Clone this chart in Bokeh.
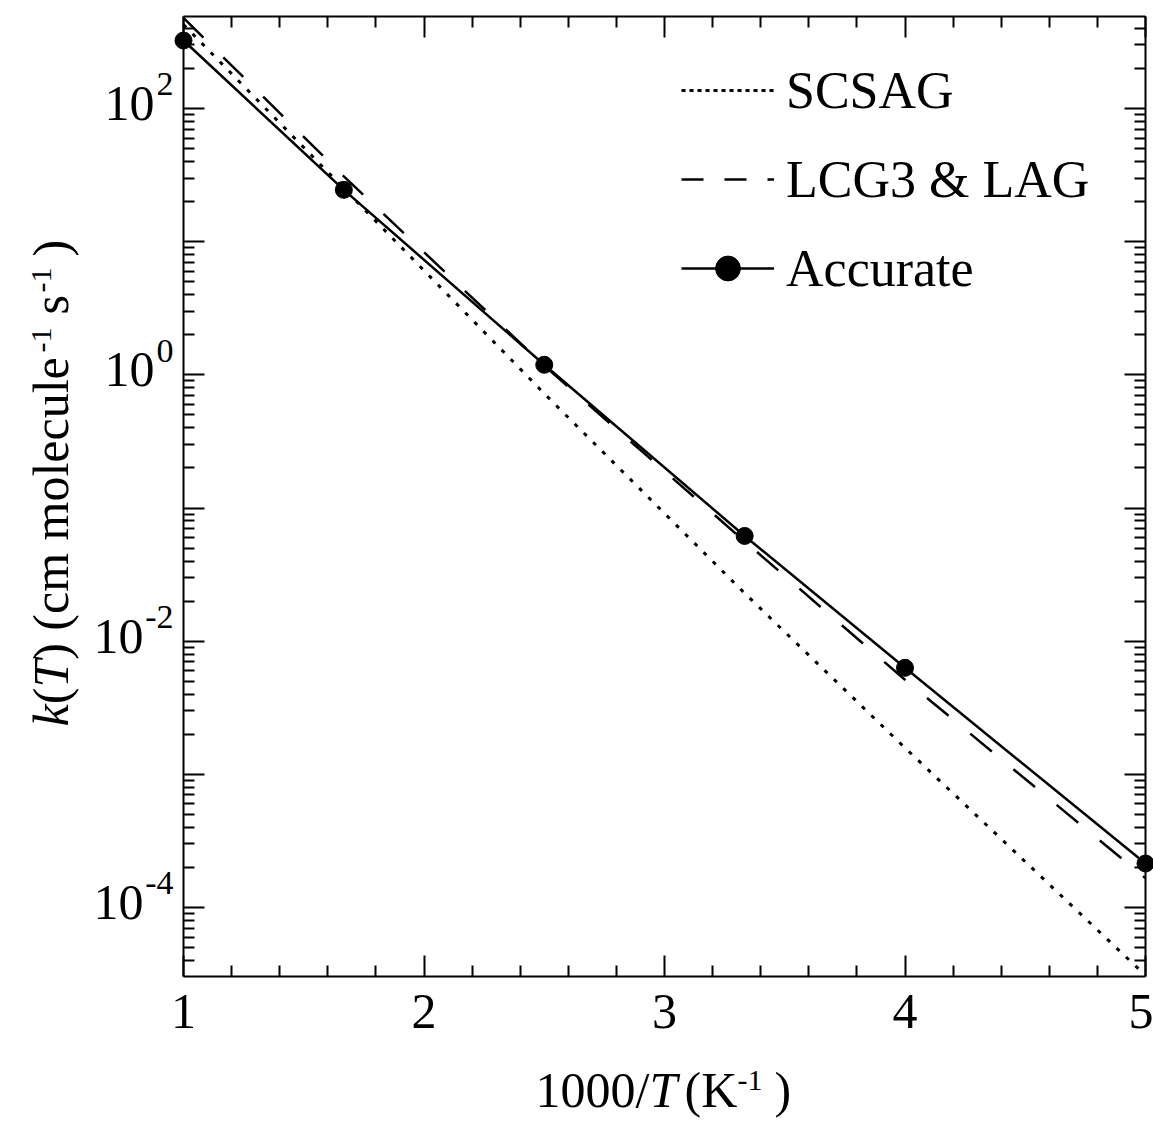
from math import pi
import numpy as np
from bokeh.plotting import figure
from bokeh.models import (FixedTicker, LinearAxis, LogAxis, Label, Range1d,
                          Legend, LegendItem, CustomJSTickFormatter, Grid)
from bokeh.embed import file_html
from bokeh.resources import INLINE

# ---------------- data ----------------
inv_T = [1.0, 1000 / 600, 2.5, 1000 / 300, 4.0, 5.0]          # 1000/T (K^-1)
k_scsag = [4.27e2, 2.51e1, 7.24e-1, 2.29e-2, 1.58e-3, 3.09e-5]
k_lcg3_lag = [4.79e2, 3.09e1, 1.17e0, 5.62e-2, 5.13e-3, 1.66e-4]
k_accurate = [3.24e2, 2.45e1, 1.19e0, 6.17e-2, 6.31e-3, 2.14e-4]

series_names = ["SCSAG", "LCG3 & LAG", "Accurate"]
x_ticks = [1, 2, 3, 4, 5]
y_decades = [-4, -3, -2, -1, 0, 1, 2]
y_label_exps = [2, 0, -2, -4]

# ---------------- layout constants ----------------
W, H = 1153, 1123
FL, FR, FT, FB = 183, 1145, 16, 976          # the plot box (pixels)
X_MIN, X_MAX = 1.0, 5.0
LOG_TOP, LOG_BOT = 2.691, -4.518
FONT = "Liberation Serif"
BASE = 0.42      # label anchor -> alphabetic baseline offset (em) as rendered


def sx_to_x(sx):
    return X_MIN + (sx - FL) / (FR - FL) * (X_MAX - X_MIN)


def sy_to_y(sy):
    return 10 ** (LOG_TOP - (sy - FT) / (FB - FT) * (LOG_TOP - LOG_BOT))


def y_to_sy(v):
    return FT + (LOG_TOP - np.log10(v)) / (LOG_TOP - LOG_BOT) * (FB - FT)


# the frame covers the whole canvas; the boxed axes sit at fixed locations
p = figure(width=W, height=H,
           x_range=Range1d(sx_to_x(0), sx_to_x(W)),
           y_range=Range1d(sy_to_y(H), sy_to_y(0)),
           y_axis_type="log", x_axis_location=None, y_axis_location=None,
           output_backend="svg", toolbar_location=None,
           min_border=0, min_border_left=0, min_border_right=0,
           min_border_top=0, min_border_bottom=0,
           background_fill_color="white", border_fill_color="white")
p.outline_line_color = None
for r in list(p.center):
    if isinstance(r, Grid):
        r.visible = False

x_minor = [1 + 0.2 * i for i in range(21) if i % 5 != 0]
y_minor = [m * 10.0 ** e for e in range(-5, 3) for m in range(2, 10)
           if LOG_BOT <= np.log10(m * 10.0 ** e) <= LOG_TOP]
x_ticker = FixedTicker(ticks=x_ticks, minor_ticks=x_minor)
y_ticker = FixedTicker(ticks=[10.0 ** e for e in y_decades], minor_ticks=y_minor)

y_lo, y_hi = 10 ** LOG_BOT, 10 ** LOG_TOP
bottom_axis = LinearAxis(fixed_location=y_lo, bounds=(X_MIN, X_MAX))
top_axis = LinearAxis(fixed_location=y_hi, bounds=(X_MIN, X_MAX))
left_axis = LogAxis(fixed_location=X_MIN, bounds=(y_lo, y_hi))
right_axis = LogAxis(fixed_location=X_MAX, bounds=(y_lo, y_hi))
p.add_layout(bottom_axis, "below")
p.add_layout(top_axis, "above")
p.add_layout(left_axis, "left")
p.add_layout(right_axis, "right")


def style_axis(ax, ticker, show_labels):
    ax.ticker = ticker
    ax.axis_line_width = 2
    ax.axis_line_color = "black"
    ax.major_tick_line_width = 2
    ax.minor_tick_line_width = 2
    ax.major_tick_line_color = "black"
    ax.minor_tick_line_color = "black"
    ax.major_tick_in = 21
    ax.major_tick_out = 0
    ax.minor_tick_in = 11
    ax.minor_tick_out = 0
    if show_labels:
        ax.major_label_text_font = FONT
        ax.major_label_text_font_size = "50px"
        ax.major_label_text_color = "black"
        ax.major_label_standoff = 18
    else:
        ax.formatter = CustomJSTickFormatter(code="return ''")
        ax.major_label_text_font_size = "0px"
        ax.major_label_standoff = 0


style_axis(bottom_axis, x_ticker, True)
style_axis(top_axis, x_ticker, False)
style_axis(left_axis, y_ticker, False)
style_axis(right_axis, y_ticker, False)

# ---------------- series ----------------
p.line(inv_T, k_scsag, line_color="black", line_width=3, line_dash="4 9")
p.line(inv_T, k_lcg3_lag, line_color="black", line_width=2.5, line_dash="28 28")
solid = p.line(inv_T, k_accurate, line_color="black", line_width=2.5)
pts = p.scatter(inv_T, k_accurate, marker="circle", size=17,
                fill_color="black", line_color="black")

# legend-only samples (one-point lines draw nothing; the reference legend
# uses tighter dash patterns than the plotted curves)
leg_dot = p.line(inv_T[:1], k_scsag[:1], line_color="black", line_width=3,
                 line_dash="4 4")
leg_dash = p.line(inv_T[:1], k_lcg3_lag[:1], line_color="black", line_width=2.5,
                  line_dash="22 21")

legend = Legend(items=[LegendItem(label=series_names[0], renderers=[leg_dot]),
                       LegendItem(label=series_names[1], renderers=[leg_dash]),
                       LegendItem(label=series_names[2], renderers=[solid, pts])],
                location=(681, H - 299),
                glyph_width=93, glyph_height=62, label_height=62,
                label_standoff=12, spacing=27, padding=0, margin=0,
                border_line_color=None, background_fill_alpha=0,
                label_text_font=FONT, label_text_font_size="52px",
                label_text_color="black")
p.add_layout(legend)


def add_text(txt, sx, sy_base, size, style="normal", align="left"):
    """horizontal text whose alphabetic baseline lies at screen row sy_base"""
    p.add_layout(Label(x=sx_to_x(sx), y=sy_to_y(sy_base - BASE * size), text=txt,
                       text_align=align, text_baseline="alphabetic",
                       text_font=FONT, text_font_style=style,
                       text_font_size=f"{size}px", text_color="black"))


def add_vtext(txt, sx_base, sy, size, style="normal"):
    """text rotated 90 deg, reading upward from sy, baseline at column sx_base"""
    p.add_layout(Label(x=sx_to_x(sx_base - BASE * size), y=sy_to_y(sy), text=txt,
                       angle=pi / 2, text_align="left", text_baseline="alphabetic",
                       text_font=FONT, text_font_style=style,
                       text_font_size=f"{size}px", text_color="black"))


# ---------------- y tick labels (10 with superscript exponent) ----------------
for e in y_label_exps:
    sy = y_to_sy(10.0 ** e)
    w_exp = 17 if e >= 0 else 28
    add_text(str(e), 173, sy - 10, 34, align="right")
    add_text("10", 173 - w_exp - 2, sy + 16, 50, align="right")

# ---------------- x axis title: 1000/T (K^-1) ----------------
add_text("1000/", 535, 1110, 50)
add_text("T", 649, 1110, 50, style="italic")
add_text("(K", 684, 1110, 50)
add_text("-1", 737, 1093, 30)
add_text(")", 774, 1110, 50)

# ---------------- y axis title: k(T) (cm molecule^-1 s^-1) ----------------
add_vtext("k", 71, 726, 50, style="italic")
add_vtext("(", 71, 703.8, 50)
add_vtext("T", 71, 687.1, 50, style="italic")
add_vtext(")", 71, 659.3, 50)
add_vtext("(cm molecule", 71, 630.2, 50)
add_vtext("-1", 54, 352.0, 30)
add_vtext("s", 71, 314.0, 50)
add_vtext("-1", 54, 292.0, 30)
add_vtext(")", 71, 256.0, 50)

open("out.html", "w").write(file_html(p, INLINE))
